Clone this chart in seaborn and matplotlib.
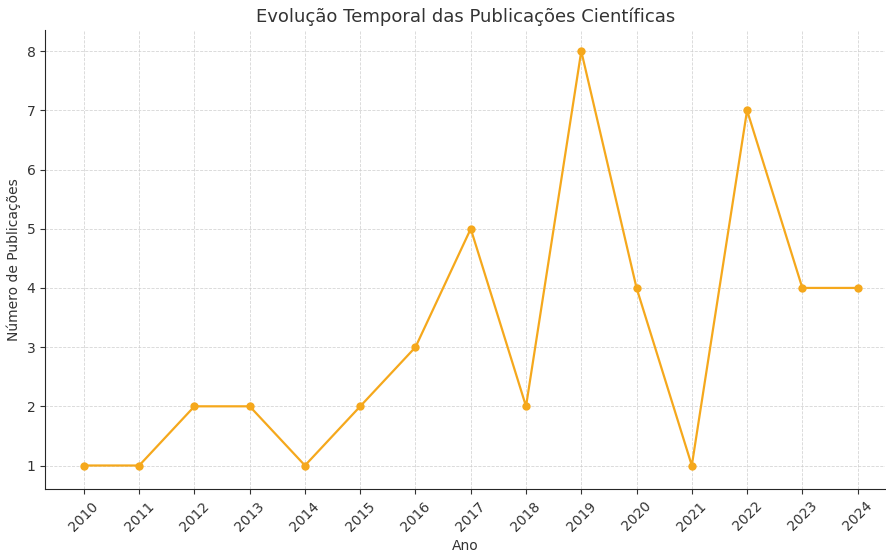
import matplotlib
matplotlib.use('Agg')
import matplotlib.pyplot as plt
import seaborn as sns
import pandas as pd

anos = [2010, 2011, 2012, 2013, 2014, 2015, 2016, 2017, 2018, 2019, 2020, 2021, 2022, 2023, 2024]
publicacoes = [1, 1, 2, 2, 1, 2, 3, 5, 2, 8, 4, 1, 7, 4, 4]

df = pd.DataFrame({'Ano': anos, 'Publicacoes': publicacoes})

sns.set_style('ticks')
plt.rcParams['font.family'] = ['DejaVu Sans']

fig, ax = plt.subplots(figsize=(8.87, 5.54), dpi=100)
sns.lineplot(data=df, x='Ano', y='Publicacoes', marker='o', color='#F5A81C',
             linewidth=1.6, markersize=6, markeredgewidth=0, ax=ax)

ax.set_title('Evolução Temporal das Publicações Científicas', fontsize=13, color='#333333')
ax.set_xlabel('Ano', fontsize=10, color='#333333')
ax.set_ylabel('Número de Publicações', fontsize=10, color='#333333')
ax.set_xticks(anos)
ax.set_xticklabels([str(a) for a in anos], rotation=45)
ax.tick_params(colors='#333333', labelsize=10)
ax.grid(True, linestyle='--', linewidth=0.6, color='#cccccc', alpha=0.8)
sns.despine(ax=ax)
ax.set_xlim(2009.3, 2024.5)
ax.set_ylim(0.6, 8.35)

fig.subplots_adjust(left=0.051, right=0.998, top=0.945, bottom=0.117)
fig.savefig('out.png', dpi=100)
